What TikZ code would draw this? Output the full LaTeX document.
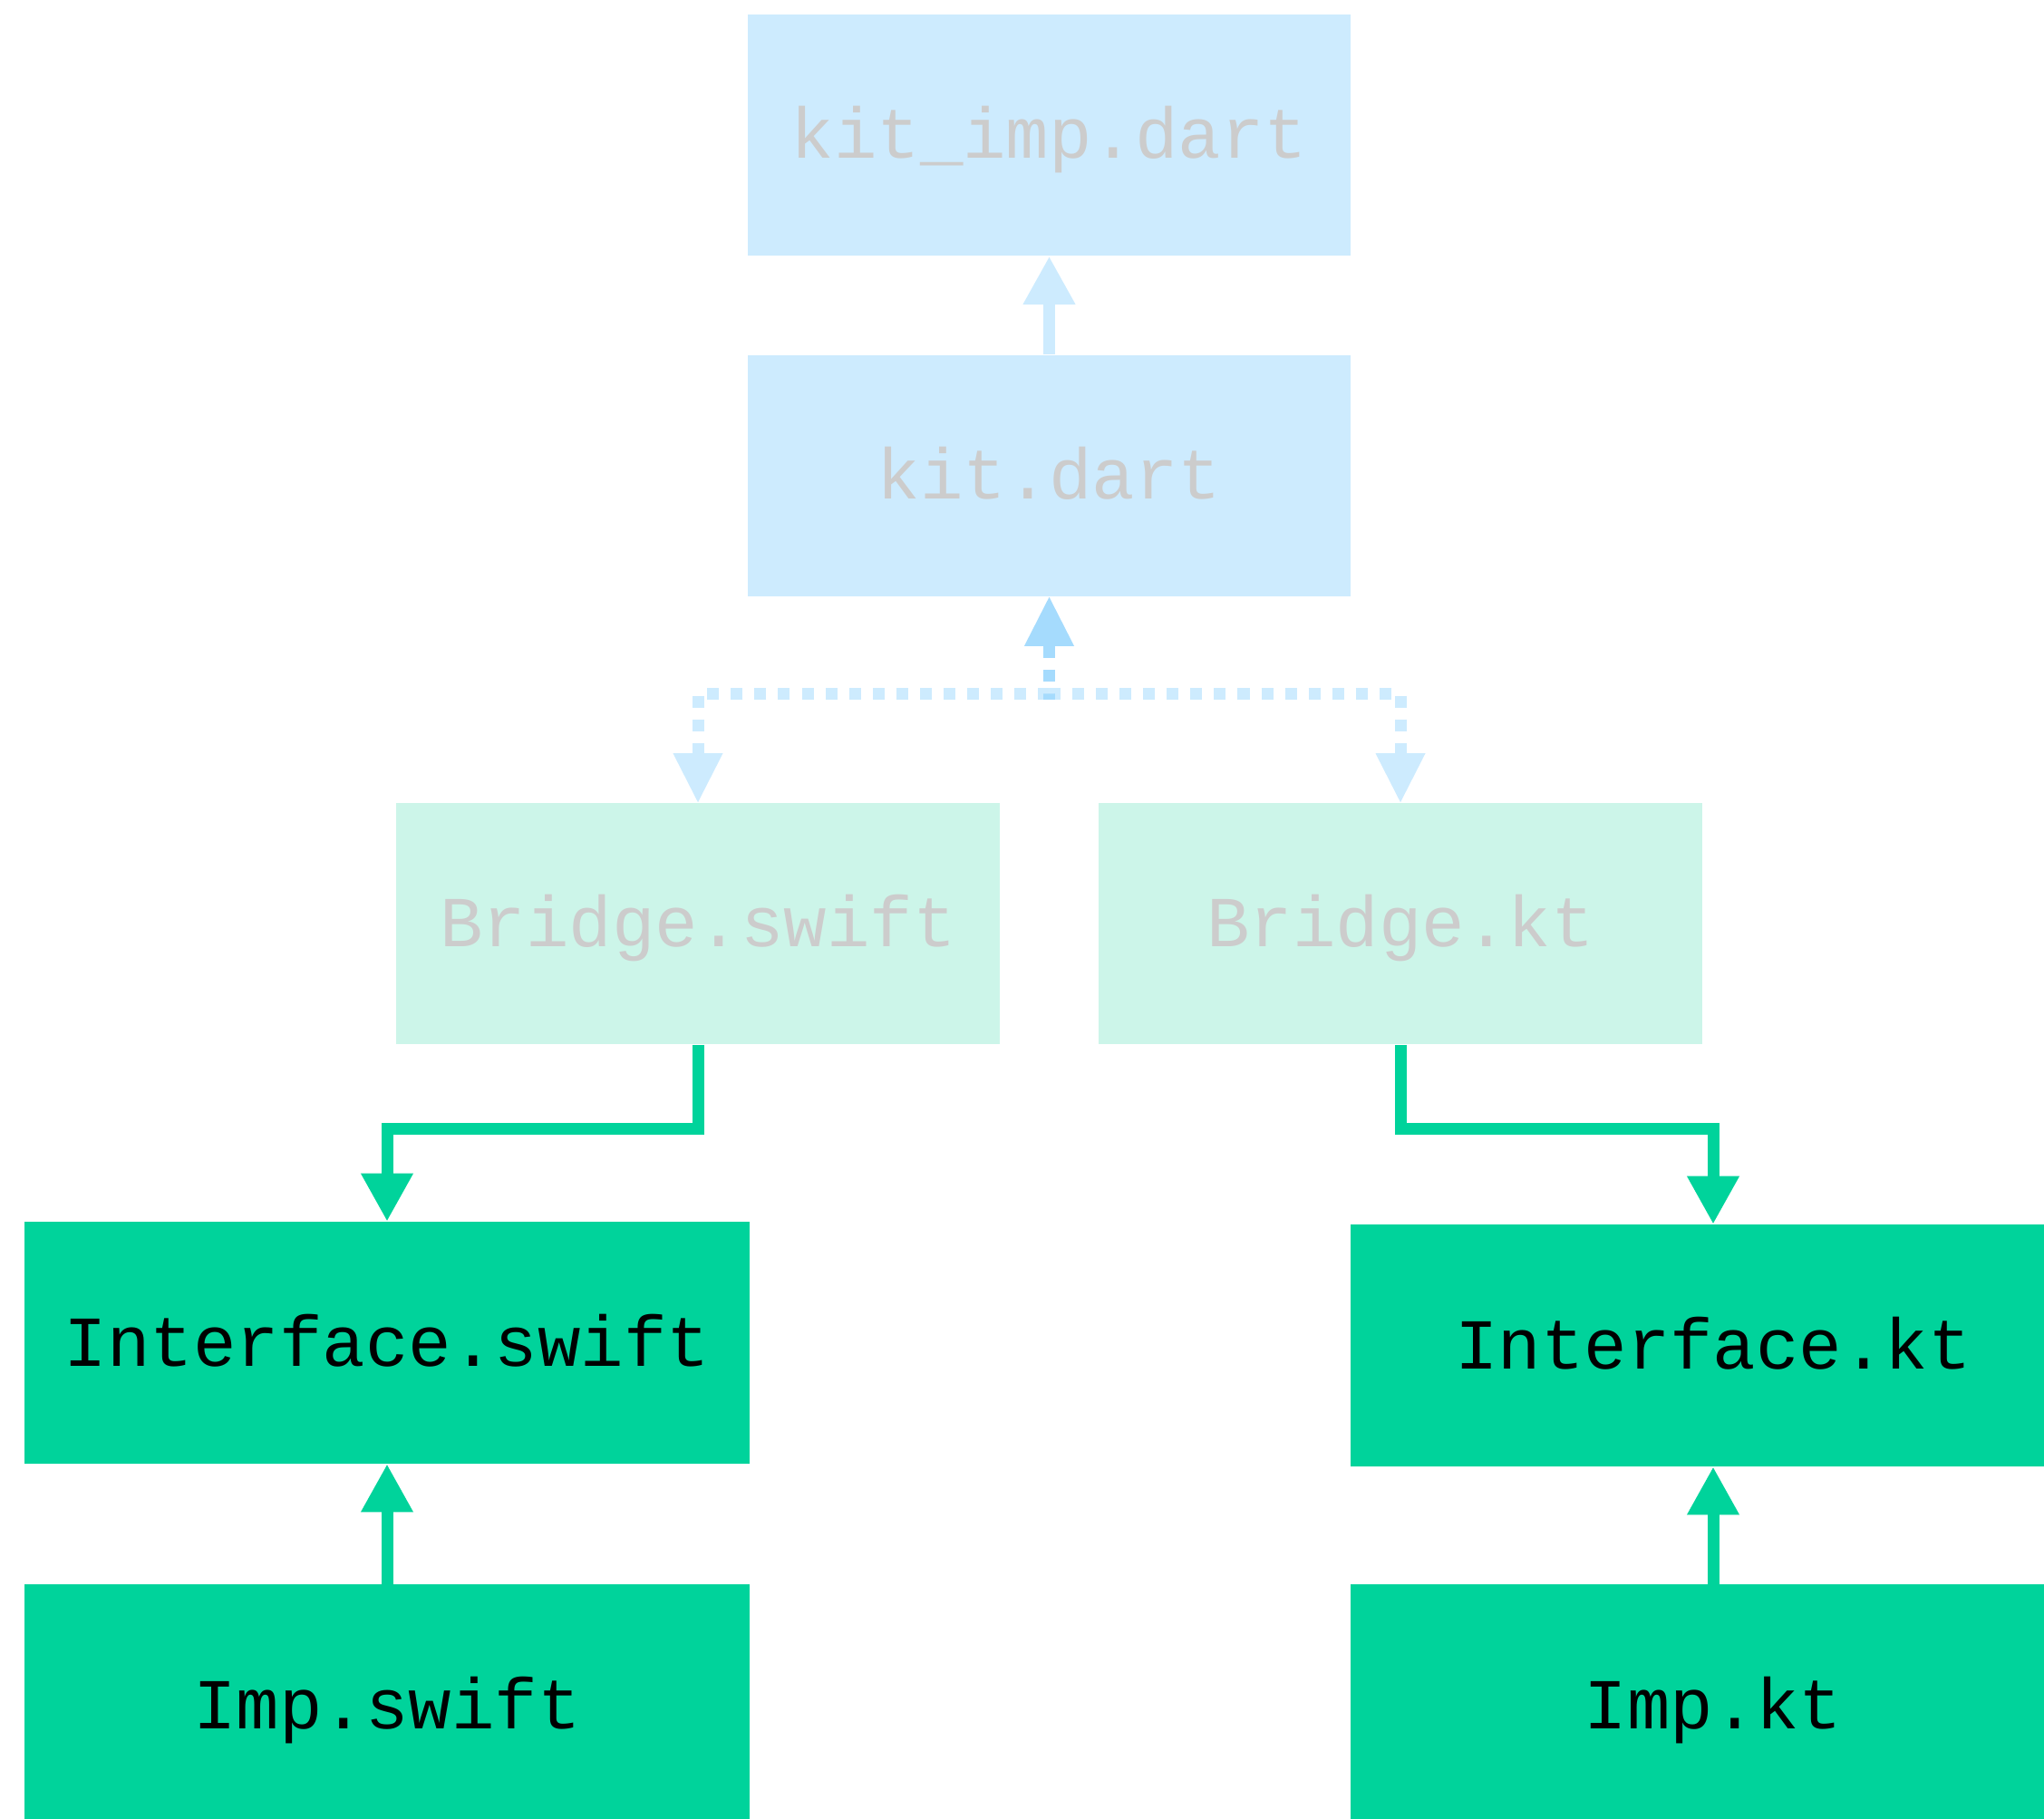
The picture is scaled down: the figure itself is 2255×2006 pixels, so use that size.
\documentclass[tikz,border=0pt]{standalone}
\usepackage{fontspec}
\setmonofont{Liberation Mono}
\usetikzlibrary{arrows.meta}
\definecolor{kitblue}{HTML}{CDEBFE}
\definecolor{forkblue}{RGB}{5,155,250}
\definecolor{bridgemint}{HTML}{CCF5E9}
\definecolor{nativegreen}{HTML}{00D39B}
\definecolor{fadedtext}{HTML}{CCCCCC}

\begin{document}
\begin{tikzpicture}[x=0.01cm, y=-0.01cm,
  srcfile/.style={rectangle, inner sep=0pt, minimum height=2.66cm,
    font=\ttfamily\fontsize{22.5pt}{27pt}\selectfont,
    text height=14.6pt, text depth=0pt},
  dartfile/.style={srcfile, fill=kitblue, text=fadedtext, minimum width=6.65cm},
  bridgefile/.style={srcfile, fill=bridgemint, text=fadedtext, minimum width=6.66cm},
  nativefile/.style={srcfile, fill=nativegreen, text=black, minimum width=8cm},
  link/.style={line width=0.13cm, -{Triangle[width=0.54cm,length=0.53cm]}},
  forklink/.style={line width=0.13cm, forkblue, opacity=0.2,
    dash pattern=on 0.13cm off 0.13cm,
    {Triangle[width=0.55cm,length=0.54cm,line width=0pt]}-{Triangle[width=0.55cm,length=0.54cm,line width=0pt]}}]
  \clip (0,0) rectangle (2255,2006);

  % dart side
  \node[dartfile] (kitimp) at (1157.5,149) {kit\_imp.dart};
  \node[dartfile] (kit) at (1157.5,525) {kit.dart};
  % platform bridges
  \node[bridgefile] (bswift) at (770,1019) {Bridge.swift};
  \node[bridgefile] (bkt) at (1545,1019) {Bridge.kt};
  % native code
  \node[nativefile] (iswift) at (427,1481.5) {Interface.swift};
  \node[nativefile] (ikt) at (1890,1484.5) {Interface.kt};
  \node[nativefile] (impswift) at (427,1881.5) {Imp.swift};
  \node[nativefile] (impkt) at (1890,1881.5) {Imp.kt};

  \draw[link, kitblue] (kit.north) -- (kitimp.south);

  % the two channel edges share the stem under kit.dart, so it shows darker
  \coordinate (fork) at (1157.5,765);
  \draw[forklink] (kit.south) -- (fork) -| (bswift.north);
  \draw[forklink] (kit.south) -- (fork) -| (bkt.north);

  \draw[link, nativegreen] (bswift.south) -- ++(0,93) -| (iswift.north);
  \draw[link, nativegreen] (bkt.south) -- ++(0,93) -| (ikt.north);
  \draw[link, nativegreen] (impswift.north) -- (iswift.south);
  \draw[link, nativegreen] (impkt.north) -- (ikt.south);
\end{tikzpicture}
\end{document}
